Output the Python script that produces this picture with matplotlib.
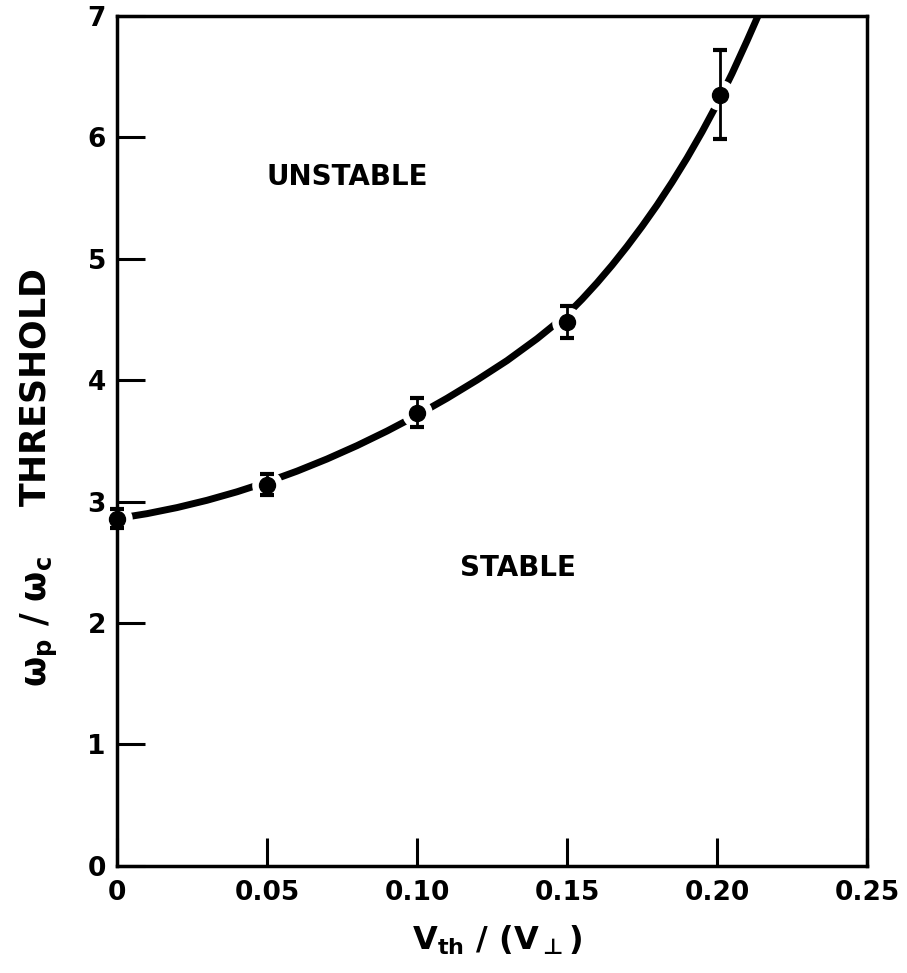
import matplotlib.pyplot as plt
import numpy as np

plt.rcParams['font.family'] = ['DejaVu Sans']
plt.rcParams['font.weight'] = 'bold'
plt.rcParams['axes.labelweight'] = 'bold'
plt.rcParams['mathtext.fontset'] = 'custom'
plt.rcParams['mathtext.rm'] = 'DejaVu Sans'
plt.rcParams['mathtext.it'] = 'DejaVu Sans:italic'
plt.rcParams['mathtext.bf'] = 'DejaVu Sans:bold'
plt.rcParams['mathtext.default'] = 'bf'

# measured threshold points with error bars
v_ratio = [0.0, 0.05, 0.10, 0.15, 0.201]
threshold = [2.86, 3.14, 3.73, 4.48, 6.35]
err = [0.08, 0.09, 0.12, 0.13, 0.37]

# theory curve
curve_x = [0.000, 0.010, 0.020, 0.030, 0.040, 0.050, 0.060, 0.070, 0.080,
           0.090, 0.100, 0.110, 0.120, 0.130, 0.140, 0.150, 0.155, 0.160,
           0.165, 0.170, 0.175, 0.180, 0.185, 0.190, 0.195, 0.200, 0.205,
           0.210, 0.2137]
curve_y = [2.86, 2.90, 2.95, 3.01, 3.08, 3.16, 3.25, 3.35, 3.46,
           3.58, 3.71, 3.85, 4.00, 4.16, 4.34, 4.54, 4.665, 4.80,
           4.945, 5.10, 5.265, 5.44, 5.628, 5.828, 6.043, 6.273, 6.523,
           6.793, 7.00]

xticks = [0, 0.05, 0.10, 0.15, 0.20, 0.25]
xtick_labels = ['0', '0.05', '0.10', '0.15', '0.20', '0.25']
yticks = [0, 1, 2, 3, 4, 5, 6, 7]

fig = plt.figure(figsize=(9.07, 9.73), dpi=100)
ax = fig.add_axes([0.129, 0.110, 0.827, 0.874])

ax.plot(curve_x, curve_y, color='black', lw=5, solid_capstyle='round',
        solid_joinstyle='round', zorder=2)
# white halo so the curve breaks around each point
ax.plot(v_ratio, threshold, 'o', ms=22, color='white', mec='none', zorder=2.2, clip_on=False)
ax.errorbar(v_ratio, threshold, yerr=err, fmt='o', color='black', ms=11.5,
            elinewidth=2, capsize=5, capthick=3, zorder=3, clip_on=False)

ax.set_xlim(0, 0.25)
ax.set_ylim(0, 7)
ax.set_xticks(xticks)
ax.set_xticklabels(xtick_labels)
ax.set_yticks(yticks)
ax.tick_params(direction='in', length=20, width=2.2, labelsize=19, pad=8)
ax.tick_params(axis='x', pad=10)
for s in ax.spines.values():
    s.set_linewidth(2.5)

ax.text(0.0767, 5.67, 'UNSTABLE', fontsize=20, fontweight='bold', ha='center', va='center')
ax.text(0.1337, 2.45, 'STABLE', fontsize=20, fontweight='bold', ha='center', va='center')

ax.set_xlabel(r'$V_{th}\ /\ (V_{\mathrm{\bot}})$', fontsize=23)
ax.set_ylabel(r'$ω_p\ /\ ω_c$    THRESHOLD', fontsize=25)
ax.xaxis.set_label_coords(0.507, -0.068)
ax.yaxis.set_label_coords(-0.076, 0.456)

fig.savefig('out.png', dpi=100)
